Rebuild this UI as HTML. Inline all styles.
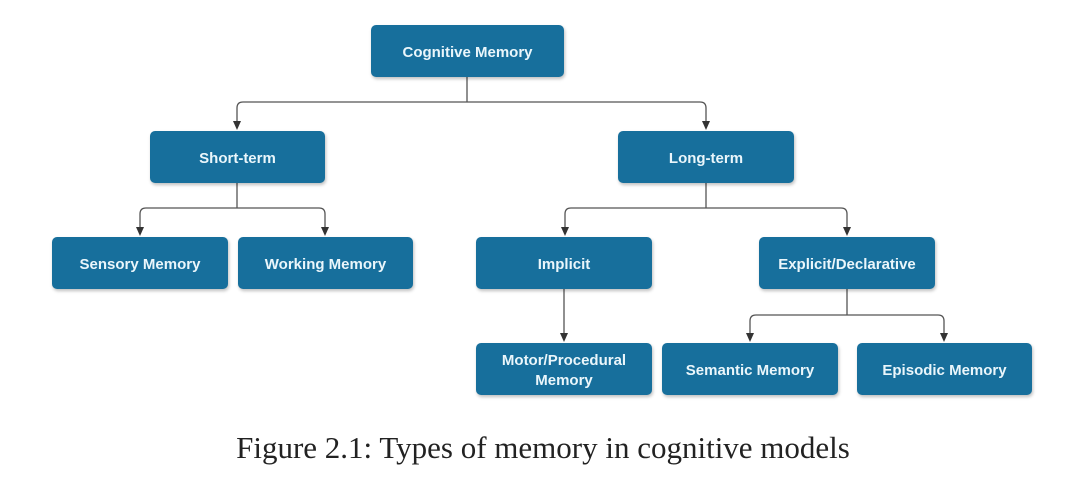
<html><head><style>
body{margin:0;background:#fff;width:1080px;height:503px;position:relative;overflow:hidden;font-family:"Liberation Sans",sans-serif}
.b{position:absolute;height:52px;background:#176f9c;border-radius:5px;color:#eaf6fb;font-weight:bold;font-size:15px;display:flex;align-items:center;justify-content:center;text-align:center;line-height:20px;box-shadow:1px 2px 3px rgba(0,0,0,.25);padding-top:3px;box-sizing:border-box}
.cap{position:absolute;top:430px;left:0;width:1086px;text-align:center;font-family:"Liberation Serif",serif;font-size:31px;color:#222}
</style></head><body>
<svg width="1080" height="503" style="position:absolute;left:0;top:0">
<g fill="none" stroke="#555" stroke-width="1.3">
<path d="M467,77V102M237,122V108q0,-6 6,-6H700q6,0 6,6V122"/>
<path d="M237,183V208M140,228V214q0,-6 6,-6H319q6,0 6,6V228"/>
<path d="M706,183V208M565,228V214q0,-6 6,-6H841q6,0 6,6V228"/>
<path d="M564,289V334"/>
<path d="M847,289V315M750,334V321q0,-6 6,-6H938q6,0 6,6V334"/>
</g>
<g fill="#333">
<path d="M233,121h8l-4,9z"/><path d="M702,121h8l-4,9z"/>
<path d="M136,227h8l-4,9z"/><path d="M321,227h8l-4,9z"/>
<path d="M561,227h8l-4,9z"/><path d="M843,227h8l-4,9z"/>
<path d="M560,333h8l-4,9z"/><path d="M746,333h8l-4,9z"/><path d="M940,333h8l-4,9z"/>
</g></svg>
<div class="b" style="left:371px;top:25px;width:193px">Cognitive Memory</div>
<div class="b" style="left:150px;top:131px;width:175px">Short-term</div>
<div class="b" style="left:618px;top:131px;width:176px">Long-term</div>
<div class="b" style="left:52px;top:237px;width:176px">Sensory Memory</div>
<div class="b" style="left:238px;top:237px;width:175px">Working Memory</div>
<div class="b" style="left:476px;top:237px;width:176px">Implicit</div>
<div class="b" style="left:759px;top:237px;width:176px">Explicit/Declarative</div>
<div class="b" style="left:476px;top:343px;width:176px">Motor/Procedural<br>Memory</div>
<div class="b" style="left:662px;top:343px;width:176px">Semantic Memory</div>
<div class="b" style="left:857px;top:343px;width:175px">Episodic Memory</div>
<div class="cap">Figure 2.1: Types of memory in cognitive models</div>
</body></html>
